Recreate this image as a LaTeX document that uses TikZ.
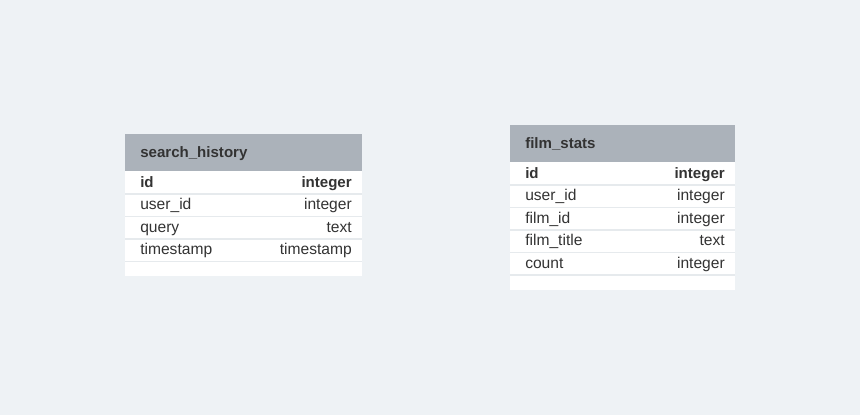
\documentclass[tikz,border=0pt]{standalone}
\usepackage{fontspec}
\setmainfont{Liberation Sans}
\definecolor{bg}{HTML}{EEF2F5}
\definecolor{hdr}{HTML}{ABB2BA}
\definecolor{sep}{HTML}{E6EAED}
\definecolor{txt}{HTML}{333333}
\tikzset{
  cell/.style={inner sep=0pt, text=txt, font=\fontsize{11.7pt}{13pt}\selectfont},
  title/.style={cell, font=\fontsize{11.3pt}{13pt}\selectfont\bfseries, anchor=base west},
  lab/.style={cell, anchor=base west},
  typ/.style={cell, anchor=base east},
  boldlab/.style={lab, font=\fontsize{11.3pt}{13pt}\selectfont\bfseries},
  boldtyp/.style={typ, font=\fontsize{11.3pt}{13pt}\selectfont\bfseries},
}
\begin{document}
\begin{tikzpicture}[x=0.75pt,y=-0.75pt]
\fill[bg] (0,0) rectangle (860,415);
\useasboundingbox (0,0) rectangle (860,415);
% table 1
\fill[white] (125,134) rectangle (362,276);
\fill[hdr] (125,134) rectangle (362,171);
\foreach \y in {194,216.5,239,261.5} \draw[sep, line width=0.9pt] (125,\y) -- (362,\y);
\node[title] (t1) at (140,157) {search\_history};
\node[boldlab] (t1a) at (140,187) {id};
\node[boldtyp] (t1at) at (352,187) {integer};
\node[lab] (t1b) at (140,209.5) {user\_id};
\node[typ] (t1bt) at (352,209.5) {integer};
\node[lab] (t1c) at (140,232) {query};
\node[typ] (t1ct) at (352,232) {text};
\node[lab] (t1d) at (140,254.5) {timestamp};
\node[typ] (t1dt) at (352,254.5) {timestamp};
% table 2
\fill[white] (510,125) rectangle (735,290);
\fill[hdr] (510,125) rectangle (735,162);
\foreach \y in {185,207.5,230,252.5,275} \draw[sep, line width=0.9pt] (510,\y) -- (735,\y);
\node[title] (t2) at (525,148) {film\_stats};
\node[boldlab] (t2a) at (525,178) {id};
\node[boldtyp] (t2at) at (725,178) {integer};
\node[lab] (t2b) at (525,200.5) {user\_id};
\node[typ] (t2bt) at (725,200.5) {integer};
\node[lab] (t2c) at (525,223) {film\_id};
\node[typ] (t2ct) at (725,223) {integer};
\node[lab] (t2d) at (525,245.5) {film\_title};
\node[typ] (t2dt) at (725,245.5) {text};
\node[lab] (t2e) at (525,268) {count};
\node[typ] (t2et) at (725,268) {integer};
\end{tikzpicture}
\end{document}
